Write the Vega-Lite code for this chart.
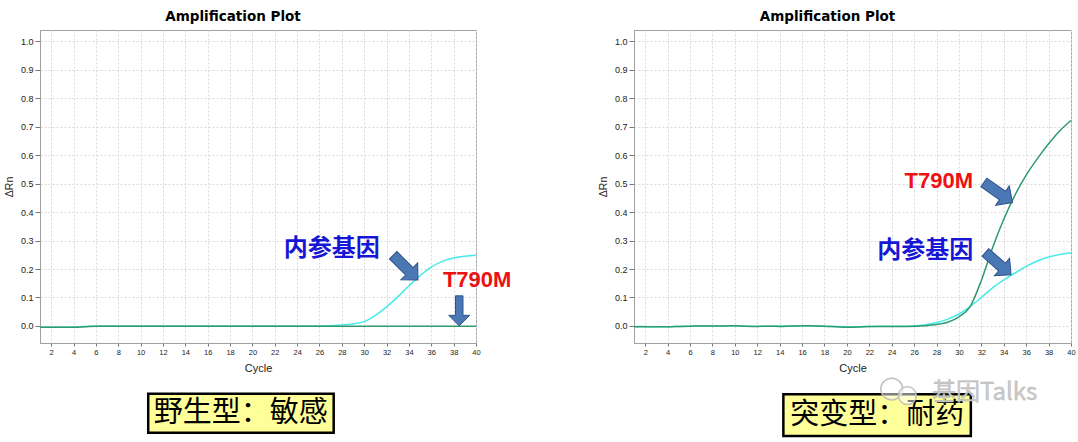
{
  "$schema": "https://vega.github.io/schema/vega-lite/v6.json",
  "background": "white",
  "padding": {"left": 3, "top": 9, "right": 2, "bottom": 4},
  "bounds": "flush",
  "spacing": 158,
  "datasets": {
    "wild": [
      {"cycle":1,"target":"内参基因","dRn":-0.005},{"cycle":2,"target":"内参基因","dRn":-0.005},{"cycle":3,"target":"内参基因","dRn":-0.005},{"cycle":4,"target":"内参基因","dRn":-0.004},{"cycle":5,"target":"内参基因","dRn":-0.002},{"cycle":6,"target":"内参基因","dRn":-0.001},{"cycle":7,"target":"内参基因","dRn":0},{"cycle":8,"target":"内参基因","dRn":0},{"cycle":9,"target":"内参基因","dRn":0},{"cycle":10,"target":"内参基因","dRn":0},{"cycle":11,"target":"内参基因","dRn":0},{"cycle":12,"target":"内参基因","dRn":0},{"cycle":13,"target":"内参基因","dRn":0},{"cycle":14,"target":"内参基因","dRn":0},{"cycle":15,"target":"内参基因","dRn":0},{"cycle":16,"target":"内参基因","dRn":0},{"cycle":17,"target":"内参基因","dRn":0},{"cycle":18,"target":"内参基因","dRn":0},{"cycle":19,"target":"内参基因","dRn":0},{"cycle":20,"target":"内参基因","dRn":0},{"cycle":21,"target":"内参基因","dRn":0},{"cycle":22,"target":"内参基因","dRn":0},{"cycle":23,"target":"内参基因","dRn":0},{"cycle":24,"target":"内参基因","dRn":0},{"cycle":25,"target":"内参基因","dRn":0},{"cycle":26,"target":"内参基因","dRn":0},{"cycle":27,"target":"内参基因","dRn":0.001},{"cycle":28,"target":"内参基因","dRn":0.003},{"cycle":29,"target":"内参基因","dRn":0.007},{"cycle":30,"target":"内参基因","dRn":0.015},{"cycle":31,"target":"内参基因","dRn":0.037},{"cycle":32,"target":"内参基因","dRn":0.067},{"cycle":33,"target":"内参基因","dRn":0.102},{"cycle":34,"target":"内参基因","dRn":0.141},{"cycle":35,"target":"内参基因","dRn":0.177},{"cycle":36,"target":"内参基因","dRn":0.207},{"cycle":37,"target":"内参基因","dRn":0.227},{"cycle":38,"target":"内参基因","dRn":0.239},{"cycle":39,"target":"内参基因","dRn":0.245},{"cycle":40,"target":"内参基因","dRn":0.248},
      {"cycle":1,"target":"T790M","dRn":-0.005},{"cycle":2,"target":"T790M","dRn":-0.005},{"cycle":3,"target":"T790M","dRn":-0.005},{"cycle":4,"target":"T790M","dRn":-0.005},{"cycle":5,"target":"T790M","dRn":-0.003},{"cycle":6,"target":"T790M","dRn":-0.001},{"cycle":7,"target":"T790M","dRn":-0.001},{"cycle":8,"target":"T790M","dRn":-0.001},{"cycle":9,"target":"T790M","dRn":-0.001},{"cycle":10,"target":"T790M","dRn":-0.001},{"cycle":11,"target":"T790M","dRn":-0.001},{"cycle":12,"target":"T790M","dRn":-0.001},{"cycle":13,"target":"T790M","dRn":-0.001},{"cycle":14,"target":"T790M","dRn":-0.001},{"cycle":15,"target":"T790M","dRn":-0.001},{"cycle":16,"target":"T790M","dRn":-0.001},{"cycle":17,"target":"T790M","dRn":-0.001},{"cycle":18,"target":"T790M","dRn":-0.001},{"cycle":19,"target":"T790M","dRn":-0.001},{"cycle":20,"target":"T790M","dRn":-0.001},{"cycle":21,"target":"T790M","dRn":-0.001},{"cycle":22,"target":"T790M","dRn":-0.001},{"cycle":23,"target":"T790M","dRn":-0.001},{"cycle":24,"target":"T790M","dRn":-0.001},{"cycle":25,"target":"T790M","dRn":-0.001},{"cycle":26,"target":"T790M","dRn":-0.001},{"cycle":27,"target":"T790M","dRn":-0.001},{"cycle":28,"target":"T790M","dRn":-0.001},{"cycle":29,"target":"T790M","dRn":-0.001},{"cycle":30,"target":"T790M","dRn":-0.001},{"cycle":31,"target":"T790M","dRn":-0.001},{"cycle":32,"target":"T790M","dRn":-0.001},{"cycle":33,"target":"T790M","dRn":-0.001},{"cycle":34,"target":"T790M","dRn":-0.001},{"cycle":35,"target":"T790M","dRn":-0.001},{"cycle":36,"target":"T790M","dRn":-0.001},{"cycle":37,"target":"T790M","dRn":-0.001},{"cycle":38,"target":"T790M","dRn":-0.001},{"cycle":39,"target":"T790M","dRn":-0.001},{"cycle":40,"target":"T790M","dRn":-0.001}
    ],
    "mutant": [
      {"cycle":1,"target":"内参基因","dRn":-0.002},{"cycle":2,"target":"内参基因","dRn":-0.002},{"cycle":3,"target":"内参基因","dRn":-0.003},{"cycle":4,"target":"内参基因","dRn":-0.003},{"cycle":5,"target":"内参基因","dRn":-0.002},{"cycle":6,"target":"内参基因","dRn":-0.001},{"cycle":7,"target":"内参基因","dRn":0},{"cycle":8,"target":"内参基因","dRn":0},{"cycle":9,"target":"内参基因","dRn":0},{"cycle":10,"target":"内参基因","dRn":0},{"cycle":11,"target":"内参基因","dRn":-0.001},{"cycle":12,"target":"内参基因","dRn":-0.001},{"cycle":13,"target":"内参基因","dRn":-0.001},{"cycle":14,"target":"内参基因","dRn":0},{"cycle":15,"target":"内参基因","dRn":0},{"cycle":16,"target":"内参基因","dRn":0},{"cycle":17,"target":"内参基因","dRn":0},{"cycle":18,"target":"内参基因","dRn":-0.001},{"cycle":19,"target":"内参基因","dRn":-0.002},{"cycle":20,"target":"内参基因","dRn":-0.003},{"cycle":21,"target":"内参基因","dRn":-0.003},{"cycle":22,"target":"内参基因","dRn":-0.002},{"cycle":23,"target":"内参基因","dRn":-0.001},{"cycle":24,"target":"内参基因","dRn":-0.001},{"cycle":25,"target":"内参基因","dRn":-0.001},{"cycle":26,"target":"内参基因","dRn":0},{"cycle":27,"target":"内参基因","dRn":0.004},{"cycle":28,"target":"内参基因","dRn":0.012},{"cycle":29,"target":"内参基因","dRn":0.024},{"cycle":30,"target":"内参基因","dRn":0.042},{"cycle":31,"target":"内参基因","dRn":0.068},{"cycle":32,"target":"内参基因","dRn":0.1},{"cycle":33,"target":"内参基因","dRn":0.134},{"cycle":34,"target":"内参基因","dRn":0.162},{"cycle":35,"target":"内参基因","dRn":0.186},{"cycle":36,"target":"内参基因","dRn":0.209},{"cycle":37,"target":"内参基因","dRn":0.228},{"cycle":38,"target":"内参基因","dRn":0.242},{"cycle":39,"target":"内参基因","dRn":0.251},{"cycle":40,"target":"内参基因","dRn":0.257},
      {"cycle":1,"target":"T790M","dRn":-0.003},{"cycle":2,"target":"T790M","dRn":-0.003},{"cycle":3,"target":"T790M","dRn":-0.003},{"cycle":4,"target":"T790M","dRn":-0.003},{"cycle":5,"target":"T790M","dRn":-0.002},{"cycle":6,"target":"T790M","dRn":-0.001},{"cycle":7,"target":"T790M","dRn":0},{"cycle":8,"target":"T790M","dRn":0},{"cycle":9,"target":"T790M","dRn":0},{"cycle":10,"target":"T790M","dRn":0.001},{"cycle":11,"target":"T790M","dRn":-0.001},{"cycle":12,"target":"T790M","dRn":-0.002},{"cycle":13,"target":"T790M","dRn":-0.001},{"cycle":14,"target":"T790M","dRn":-0.002},{"cycle":15,"target":"T790M","dRn":0},{"cycle":16,"target":"T790M","dRn":0.001},{"cycle":17,"target":"T790M","dRn":0},{"cycle":18,"target":"T790M","dRn":-0.001},{"cycle":19,"target":"T790M","dRn":-0.003},{"cycle":20,"target":"T790M","dRn":-0.005},{"cycle":21,"target":"T790M","dRn":-0.004},{"cycle":22,"target":"T790M","dRn":-0.002},{"cycle":23,"target":"T790M","dRn":-0.002},{"cycle":24,"target":"T790M","dRn":-0.002},{"cycle":25,"target":"T790M","dRn":-0.002},{"cycle":26,"target":"T790M","dRn":-0.001},{"cycle":27,"target":"T790M","dRn":0.001},{"cycle":28,"target":"T790M","dRn":0.005},{"cycle":29,"target":"T790M","dRn":0.013},{"cycle":30,"target":"T790M","dRn":0.032},{"cycle":31,"target":"T790M","dRn":0.068},{"cycle":32,"target":"T790M","dRn":0.16},{"cycle":33,"target":"T790M","dRn":0.275},{"cycle":34,"target":"T790M","dRn":0.375},{"cycle":35,"target":"T790M","dRn":0.46},{"cycle":36,"target":"T790M","dRn":0.53},{"cycle":37,"target":"T790M","dRn":0.588},{"cycle":38,"target":"T790M","dRn":0.64},{"cycle":39,"target":"T790M","dRn":0.686},{"cycle":40,"target":"T790M","dRn":0.722}
    ]
  },
  "hconcat": [
    {
      "width": 436,
      "height": 313,
      "title": {"text": "Amplification Plot", "font": "DejaVu Sans", "fontSize": 13.5, "fontWeight": "bold", "color": "#000000", "dx": -25, "offset": 7},
      "encoding": {
        "x": {"field": "cycle", "type": "quantitative", "scale": {"domain": [1, 40], "nice": false, "zero": false},
              "axis": {"title": "Cycle", "values": [2,4,6,8,10,12,14,16,18,20,22,24,26,28,30,32,34,36,38,40], "labelFontSize": 7.5, "titleFontSize": 11, "tickSize": 3, "labelPadding": 2.5, "titlePadding": 6}},
        "y": {"field": "dRn", "type": "quantitative", "scale": {"domain": [-0.06, 1.04], "nice": false, "zero": false},
              "axis": {"title": "ΔRn", "values": [0,0.1,0.2,0.3,0.4,0.5,0.6,0.7,0.8,0.9,1.0], "format": ".1f", "labelFontSize": 9, "titleFontSize": 10.5, "tickSize": 5, "labelPadding": 2, "titlePadding": 6}}
      },
      "layer": [
        {"data": {"name": "wild"}, "transform": [{"filter": "datum.target == '内参基因'"}],
         "mark": {"type": "line", "color": "#47EAEA", "strokeWidth": 1.5, "interpolate": "monotone"}},
        {"data": {"name": "wild"}, "transform": [{"filter": "datum.target == 'T790M'"}],
         "mark": {"type": "line", "color": "#2F9A6E", "strokeWidth": 1.5, "interpolate": "monotone"}},
        {"data": {"values": [{"label": "内参基因", "cycle": 27.1, "dRn": 0.272}]},
         "mark": {"type": "text", "font": "Noto Sans CJK SC", "fontSize": 24, "fontWeight": "bold", "color": "#1616D4", "baseline": "middle", "align": "center"},
         "encoding": {"text": {"field": "label"}}},
        {"data": {"values": [{"label": "T790M", "cycle": 40.1, "dRn": 0.163}]},
         "mark": {"type": "text", "font": "Liberation Sans", "fontSize": 22, "fontWeight": "bold", "color": "#EE1111", "baseline": "middle", "align": "center"},
         "encoding": {"text": {"field": "label"}}},
        {"data": {"values": [{"cycle": 33.7, "dRn": 0.205}]},
         "mark": {"type": "point", "shape": "M-0.3,-1L0.3,-1L0.3,0.3L0.68,0.3L0,1L-0.68,0.3L-0.3,0.3Z", "filled": true, "fill": "#4A78B4", "stroke": "#2F5289", "strokeWidth": 1, "opacity": 1, "size": 1225, "angle": -45}},
        {"data": {"values": [{"cycle": 38.5, "dRn": 0.053}]},
         "mark": {"type": "point", "shape": "M-0.25,-1L0.25,-1L0.25,0.3L0.7,0.3L0,1L-0.7,0.3L-0.25,0.3Z", "filled": true, "fill": "#4A78B4", "stroke": "#2F5289", "strokeWidth": 1, "opacity": 1, "size": 900, "angle": 0}},
        {"data": {"values": [{"cycle": 10.68, "cycleEnd": 27.27, "dRn": -0.238, "dRnEnd": -0.375}]},
         "mark": {"type": "rect", "fill": "#FFFF99", "stroke": "#000000", "strokeWidth": 2.5},
         "encoding": {"x2": {"field": "cycleEnd"}, "y2": {"field": "dRnEnd"}}},
        {"data": {"values": [{"label": "野生型：敏感", "cycle": 18.96, "dRn": -0.306}]},
         "mark": {"type": "text", "font": "Noto Sans CJK SC", "fontSize": 29, "color": "#000000", "baseline": "middle", "align": "center"},
         "encoding": {"text": {"field": "label"}}}
      ]
    },
    {
      "width": 437,
      "height": 313,
      "title": {"text": "Amplification Plot", "font": "DejaVu Sans", "fontSize": 13.5, "fontWeight": "bold", "color": "#000000", "dx": -25, "offset": 7},
      "encoding": {
        "x": {"field": "cycle", "type": "quantitative", "scale": {"domain": [1, 40], "nice": false, "zero": false},
              "axis": {"title": "Cycle", "values": [2,4,6,8,10,12,14,16,18,20,22,24,26,28,30,32,34,36,38,40], "labelFontSize": 7.5, "titleFontSize": 11, "tickSize": 3, "labelPadding": 2.5, "titlePadding": 6}},
        "y": {"field": "dRn", "type": "quantitative", "scale": {"domain": [-0.06, 1.04], "nice": false, "zero": false},
              "axis": {"title": "ΔRn", "values": [0,0.1,0.2,0.3,0.4,0.5,0.6,0.7,0.8,0.9,1.0], "format": ".1f", "labelFontSize": 9, "titleFontSize": 10.5, "tickSize": 5, "labelPadding": 2, "titlePadding": 6}}
      },
      "layer": [
        {"data": {"name": "mutant"}, "transform": [{"filter": "datum.target == '内参基因'"}],
         "mark": {"type": "line", "color": "#47EAEA", "strokeWidth": 1.5, "interpolate": "monotone"}},
        {"data": {"name": "mutant"}, "transform": [{"filter": "datum.target == 'T790M'"}],
         "mark": {"type": "line", "color": "#2F9A6E", "strokeWidth": 1.5, "interpolate": "monotone"}},
        {"data": {"values": [{"label": "T790M", "cycle": 28.2, "dRn": 0.51}]},
         "mark": {"type": "text", "font": "Liberation Sans", "fontSize": 22, "fontWeight": "bold", "color": "#EE1111", "baseline": "middle", "align": "center"},
         "encoding": {"text": {"field": "label"}}},
        {"data": {"values": [{"label": "内参基因", "cycle": 27.0, "dRn": 0.264}]},
         "mark": {"type": "text", "font": "Noto Sans CJK SC", "fontSize": 24, "fontWeight": "bold", "color": "#1616D4", "baseline": "middle", "align": "center"},
         "encoding": {"text": {"field": "label"}}},
        {"data": {"values": [{"cycle": 33.5, "dRn": 0.469}]},
         "mark": {"type": "point", "shape": "M-0.3,-1L0.3,-1L0.3,0.3L0.68,0.3L0,1L-0.68,0.3L-0.3,0.3Z", "filled": true, "fill": "#4A78B4", "stroke": "#2F5289", "strokeWidth": 1, "opacity": 1, "size": 1225, "angle": -55}},
        {"data": {"values": [{"cycle": 33.5, "dRn": 0.219}]},
         "mark": {"type": "point", "shape": "M-0.3,-1L0.3,-1L0.3,0.3L0.68,0.3L0,1L-0.68,0.3L-0.3,0.3Z", "filled": true, "fill": "#4A78B4", "stroke": "#2F5289", "strokeWidth": 1, "opacity": 1, "size": 1156, "angle": -49}},
        {"data": {"values": [{"cycle": 14.33, "cycleEnd": 31.06, "dRn": -0.24, "dRnEnd": -0.387}]},
         "mark": {"type": "rect", "fill": "#FFFF99", "stroke": "#000000", "strokeWidth": 2.5},
         "encoding": {"x2": {"field": "cycleEnd"}, "y2": {"field": "dRnEnd"}}},
        {"data": {"values": [{"label": "突变型：耐药", "cycle": 22.7, "dRn": -0.314}]},
         "mark": {"type": "text", "font": "Noto Sans CJK SC", "fontSize": 29, "color": "#000000", "baseline": "middle", "align": "center"},
         "encoding": {"text": {"field": "label"}}},
        {"data": {"values": [{"cycle": 24.0, "dRn": -0.222}]},
         "mark": {"type": "point", "shape": "circle", "filled": true, "fill": "#ffffff", "fillOpacity": 0.5, "stroke": "#bbbbbb", "strokeWidth": 1.5, "strokeOpacity": 0.9, "size": 480}},
        {"data": {"values": [{"cycle": 25.4, "dRn": -0.245}]},
         "mark": {"type": "point", "shape": "circle", "filled": true, "fill": "#ffffff", "fillOpacity": 0.5, "stroke": "#bbbbbb", "strokeWidth": 1.5, "strokeOpacity": 0.9, "size": 320}},
        {"data": {"values": [{"label": "基因Talks", "cycle": 32.3, "dRn": -0.235}]},
         "mark": {"type": "text", "font": "Noto Sans CJK SC", "fontSize": 24, "color": "#cccccc", "stroke": "#b0b0b0", "strokeWidth": 0.4, "baseline": "middle", "align": "center"},
         "encoding": {"text": {"field": "label"}}}
      ]
    }
  ],
  "config": {
    "view": {"stroke": "#a0a0a0", "strokeWidth": 1},
    "axis": {"labelFont": "Liberation Sans", "titleFont": "Liberation Sans", "labelColor": "#222222", "titleColor": "#222222", "titleFontWeight": "normal", "domainColor": "#a0a0a0", "tickColor": "#777777", "gridColor": "#d9d9d9", "gridDash": [2, 2], "labelFlush": false}
  }
}
